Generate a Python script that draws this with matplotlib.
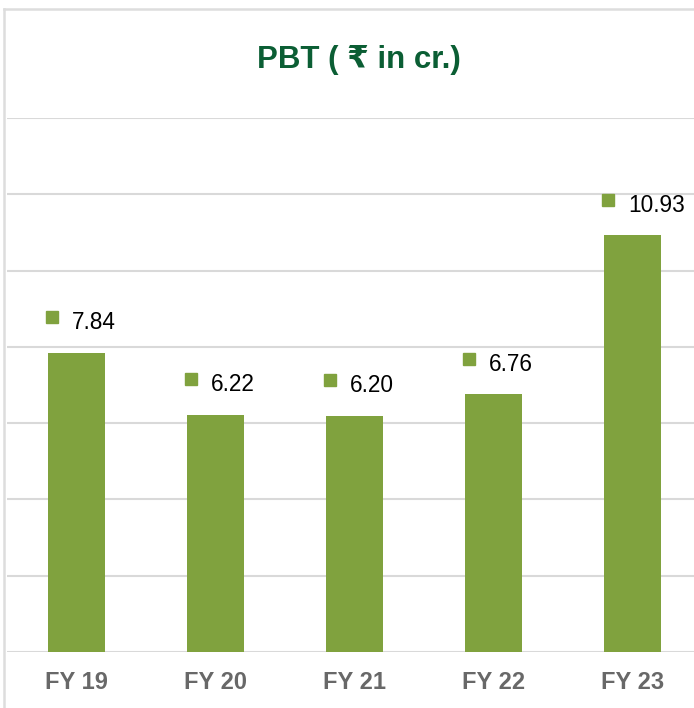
import matplotlib
matplotlib.use("Agg")
import matplotlib.pyplot as plt
import matplotlib.transforms as mtrans
from matplotlib.lines import Line2D
from matplotlib import font_manager

categories = ["FY 19", "FY 20", "FY 21", "FY 22", "FY 23"]
pbt = [7.84, 6.22, 6.20, 6.76, 10.93]
title = "PBT ( ₹ in cr.)"

green = "#80A23E"
grid_c = "#D9D9D9"
fam = ["Liberation Sans", "DejaVu Sans"]
names = {f.name for f in font_manager.fontManager.ttflist}
tick_fam = ["Liberation Sans Narrow", "Liberation Sans"] if "Liberation Sans Narrow" in names else ["Liberation Sans"]
tick_size = 20 if "Liberation Sans Narrow" in names else 17

W, H = 694, 708
fig = plt.figure(figsize=(W / 100, H / 100), dpi=100)

# outer frame (left and top border)
fig.add_artist(Line2D([4 / W, 4 / W], [0, 1 - 9 / H], color="#DDDDDD", lw=1.8))
fig.add_artist(Line2D([4 / W, 1], [1 - 9 / H, 1 - 9 / H], color="#DDDDDD", lw=1.8))

ax = fig.add_axes([7 / W, (H - 652) / H, 695 / W, (652 - 118) / H])
x = list(range(len(categories)))
ax.bar(x, pbt, width=0.41, color=green, zorder=3)
ax.set_xlim(-0.5, 4.5)
ax.set_ylim(0, 14)
ax.set_yticks(range(0, 15, 2))
ax.yaxis.grid(True, color=grid_c, lw=1.5, zorder=0)
ax.tick_params(axis="y", left=False, labelleft=False)
ax.set_xticks(x)
ax.set_xticklabels(categories, fontfamily=tick_fam, fontweight="bold", fontsize=tick_size, color="#686868")
ax.tick_params(axis="x", length=0, pad=14)
for s in ax.spines.values():
    s.set_visible(False)

for i, v in zip(x, pbt):
    ax.annotate(f"{v:.2f}", xy=(i, v), xytext=(-4.5 * 0.72, 30 * 0.72), textcoords="offset points",
                ha="left", va="center", fontsize=16.3, fontfamily=fam, color="black")
    tr = ax.transData + mtrans.ScaledTranslation(-25 / 100, 35.5 / 100, fig.dpi_scale_trans)
    ax.plot([i], [v], marker="s", markersize=9.2, color=green, transform=tr, clip_on=False, zorder=4, lw=0)

fig.text(359 / W, 1 - 60 / H, title, ha="center", va="center", fontsize=22.5,
         fontweight="bold", color="#0B5E34", fontfamily=fam)

fig.savefig("out.png", dpi=100)
